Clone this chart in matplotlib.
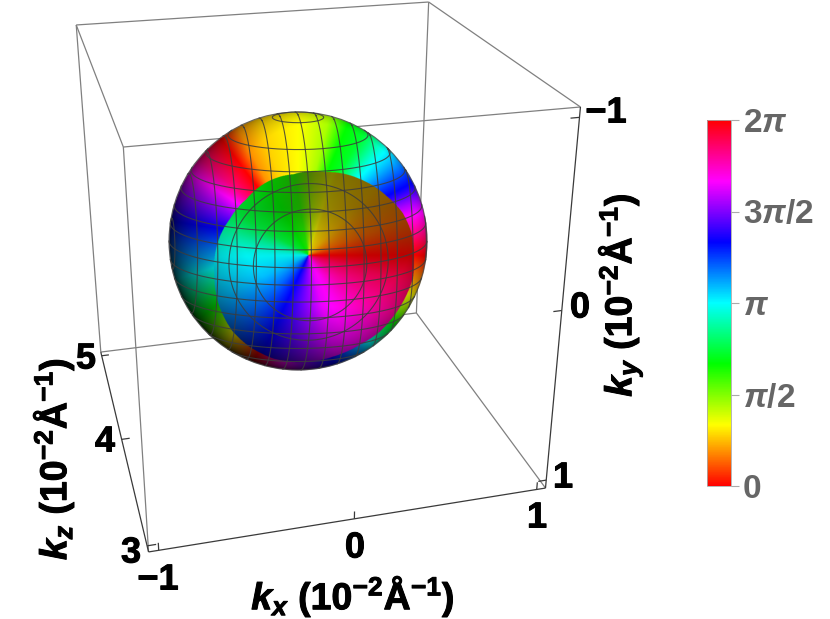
import numpy as np
import matplotlib
matplotlib.use("Agg")
import matplotlib.pyplot as plt
import matplotlib.patheffects as pe
from matplotlib.colors import hsv_to_rgb, ListedColormap, Normalize
from matplotlib.cm import ScalarMappable
from matplotlib.patches import Circle

plt.rcParams.update({
    "font.family": "Liberation Sans", "font.weight": "bold",
    "mathtext.fontset": "custom", "mathtext.default": "regular",
    "mathtext.rm": "Liberation Sans:bold",
    "mathtext.it": "Liberation Sans:italic:bold",
    "mathtext.bf": "Liberation Sans:bold",
})

# ---- axes values
KX_TICKS = [-1, 0, 1]
KY_TICKS = [-1, 0, 1]
KZ_TICKS = [3, 4, 5]
KX_LIM = (-1.05, 1.05)
KY_LIM = (-1.05, 1.05)
KZ_LIM = (2.95, 5.05)
PHASE_TICK_LABELS = ["0", r"$\mathit{\pi}$/2", r"$\mathit{\pi}$", r"3$\mathit{\pi}$/2", r"2$\mathit{\pi}$"]

# ---- phase (degrees of hue) against angle around a centre
OUTER_ANGLE = [-5, 10, 18, 27, 46, 59, 67, 76, 90, 107, 118, 127, 140, 148, 155, 171, 190, 205, 218, 235, 243, 250, 260, 270, 286, 300, 314, 331, 344, 355]
OUTER_PHASE = [355, 310, 280, 240, 180, 130, 120, 80, 60, 50, 35, 0, 330, 300, 280, 240, 200, 160, 120, 60, 30, 0, 310, 280, 240, 200, 140, 70, 30, 355]
INNER_ANGLE = [0, 20, 45, 70, 85, 100, 130, 150, 165, 178, 205, 225, 245, 265, 285, 300, 320, 345, 360]
INNER_PHASE = [0, 25, 45, 55, 75, 110, 125, 135, 160, 178, 195, 215, 240, 268, 295, 303, 320, 340, 360]
# edge of the central patch: relative radius against angle around the sphere centre
EDGE_ANGLE = [-9, 4.5, 15, 27, 45, 68, 94, 118, 141, 162, 183, 202, 221, 234, 245, 258, 271, 287, 301, 312, 326, 342, 351]
EDGE_RADIUS = [.91, .88, .84, .77, .68, .577, .52, .518, .516, .556, .63, .70, .80, .864, .90, .93, .94, .935, .935, .945, .94, .935, .91]
# brightness of the patch on a coarse picture grid
BRIGHT_X = [210, 260, 310, 360, 410]
BRIGHT_Y = [175, 208, 242, 275, 308, 358]
BRIGHT = [[1.00, .80, .50, .50, .50],
          [.90, .75, .60, .55, .55],
          [.95, .90, .85, .70, .65],
          [1.00, 1.00, 1.00, .90, .85],
          [.95, 1.00, 1.00, 1.00, .95],
          [.80, .85, .90, .90, .80]]
# mesh planes of the sphere surface (relative to radius)
MESH_X = [-.98, -.84, -.70, -.56, -.42, -.28, -.14, 0, .14, .28, .42, .56, .70, .84, .98]
MESH_Y = [-.98, -.84, -.70, -.56, -.42, -.28, -.14, 0, .14, .28, .42, .56, .70, .84, .98]
MESH_Z = [.784, .897]

# ---- layout (pixels)
W, H = 830, 619
BOX_PIXELS = {(-1, 1, 3): (148, 552), (1, 1, 3): (545, 488), (1, -1, 3): (581, 107), (-1, -1, 3): (124, 147),
              (-1, 1, 5): (101, 352), (1, 1, 5): (417, 313), (1, -1, 5): (428, 2), (-1, -1, 5): (76, 25)}
CX, CY, RAD = 298.0, 241.0, 129.0
VX, VY = 308.3, 255.0
TILT, YAW = np.radians(12), np.radians(6)

fig = plt.figure(figsize=(W / 100, H / 100), dpi=100, facecolor="white")
ax = fig.add_axes([0, 0, 1, 1])
ax.set_xlim(0, W)
ax.set_ylim(H, 0)
ax.axis("off")


def lim(s, L):
    return L[0] if s < 0 else L[1]


# camera from the box corners
rows = []
for (sx, sy, sz), (px, py) in BOX_PIXELS.items():
    X = [lim(sx, KX_LIM), lim(sy, KY_LIM), lim(sz - 4, KZ_LIM), 1]
    rows.append(X + [0, 0, 0, 0] + [-px * v for v in X])
    rows.append([0, 0, 0, 0] + X + [-py * v for v in X])
CAM = np.linalg.svd(np.array(rows))[2][-1].reshape(3, 4)


def project(kx, ky, kz):
    q = CAM @ np.array([kx, ky, kz, 1.0])
    return q[0] / q[2], q[1] / q[2]


def seg(a, b, **kw):
    pa, pb = project(*a), project(*b)
    ax.plot([pa[0], pb[0]], [pa[1], pb[1]], solid_capstyle="butt", **kw)


x0, x1 = KX_LIM
y0, y1 = KY_LIM
z0, z1 = KZ_LIM
GRAY = dict(color="#808080", lw=0.9, zorder=1)
DARK = dict(color="#3a3a3a", lw=0.9, zorder=1)
for a, b in [((x0, y0, z1), (x1, y0, z1)), ((x1, y0, z1), (x1, y0, z0)), ((x1, y0, z0), (x0, y0, z0)),
             ((x0, y0, z0), (x0, y0, z1)), ((x0, y1, z1), (x1, y1, z1)), ((x1, y1, z1), (x1, y1, z0)),
             ((x0, y0, z1), (x0, y1, z1)), ((x1, y0, z1), (x1, y1, z1)), ((x0, y0, z0), (x0, y1, z0))]:
    seg(a, b, **GRAY)
seg((x0, y1, z0), (x1, y1, z0), **DARK)
seg((x0, y1, z0), (x0, y1, z1), **DARK)
seg((x1, y0, z0), (x1, y1, z0), **DARK)
TL = 0.045
for v in KX_TICKS:
    seg((v, y1, z0), (v, y1 - TL, z0), **DARK)
for v in KY_TICKS:
    seg((x1, v, z0), (x1 - TL, v, z0), **DARK)
for v in KZ_TICKS:
    seg((x0, y1, v), (x0 + TL, y1, v), **DARK)

# ---- sphere image
SS = 3
xs = np.arange(CX - RAD - 2, CX + RAD + 2, 1 / SS)
ys = np.arange(CY - RAD - 2, CY + RAD + 2, 1 / SS)
PX, PY = np.meshgrid(xs, ys)
dx, dy = (PX - CX) / RAD, (CY - PY) / RAD
rr = np.hypot(dx, dy)
ang = np.degrees(np.arctan2(dy, dx)) % 360


def table(a, p, query):
    a = np.array(a, float)
    p = np.radians(np.array(p, float))
    o = np.argsort(a % 360)
    aa = (a % 360)[o]
    pp = p[o]
    aa = np.r_[aa[-1] - 360, aa, aa[0] + 360]
    pp = np.r_[pp[-1], pp, pp[0]]
    c = np.interp(query, aa, np.cos(pp))
    s = np.interp(query, aa, np.sin(pp))
    return (np.arctan2(s, c) / (2 * np.pi)) % 1


edge_a = np.array(EDGE_ANGLE, float) % 360
o = np.argsort(edge_a)
edge = np.interp(ang, edge_a[o], np.array(EDGE_RADIUS)[o], period=360)
inside = rr < edge
vang = np.degrees(np.arctan2(VY - PY, PX - VX)) % 360
hue = np.where(inside, table(INNER_ANGLE, INNER_PHASE, vang), table(OUTER_ANGLE, OUTER_PHASE, ang))

# bilinear brightness of the patch
bx, by = np.array(BRIGHT_X, float), np.array(BRIGHT_Y, float)
B = np.array(BRIGHT)
fx = np.interp(PX, bx, np.arange(len(bx)))
fy = np.interp(PY, by, np.arange(len(by)))
ix = np.minimum(fx.astype(int), len(bx) - 2)
iy = np.minimum(fy.astype(int), len(by) - 2)
tx, ty = fx - ix, fy - iy
bright = (B[iy, ix] * (1 - tx) * (1 - ty) + B[iy, ix + 1] * tx * (1 - ty)
          + B[iy + 1, ix] * (1 - tx) * ty + B[iy + 1, ix + 1] * tx * ty)
nz = np.sqrt(np.clip(1 - rr ** 2, 0, 1))
light = np.array([.30, .30, .90])
shade = np.clip(.40 + .9 * (light[0] * dx + light[1] * dy + light[2] * nz), 0, 1)
val = shade * np.where(inside, bright, 1.0)
rgb = hsv_to_rgb(np.dstack([hue, np.ones_like(hue), val]))
alpha = np.clip((1 - rr) * RAD + .5, 0, 1)
ax.imshow(np.dstack([rgb, alpha]), extent=[xs[0], xs[-1], ys[-1], ys[0]], interpolation="antialiased",
          zorder=2, aspect="auto")
ax.set_xlim(0, W)
ax.set_ylim(H, 0)
ax.add_patch(Circle((CX, CY), RAD, fill=False, ec="#3c3c3c", lw=0.8, alpha=.7, zorder=3))

# ---- mesh
ca, sa, cb, sb = np.cos(TILT), np.sin(TILT), np.cos(YAW), np.sin(YAW)
ROT = np.array([[1, 0, 0], [0, ca, -sa], [0, sa, ca]]) @ np.array([[cb, 0, sb], [0, 1, 0], [-sb, 0, cb]])
t = np.linspace(0, 2 * np.pi, 361)


def ring(axis, c):
    e = np.eye(3)
    a, u, v = e[axis], e[(axis + 1) % 3], e[(axis + 2) % 3]
    r = np.sqrt(1 - c ** 2)
    p = c * a[:, None] + r * (u[:, None] * np.cos(t) + v[:, None] * np.sin(t))
    q = ROT @ p
    sx, sy = CX + RAD * q[0], CY - RAD * q[1]
    sx = np.where(q[2] > 0, sx, np.nan)
    ax.plot(sx, sy, color="#3c3c3c", lw=0.8, alpha=.85, zorder=3)


for c in MESH_X:
    ring(0, c)
for c in MESH_Y:
    ring(1, c)
for c in MESH_Z:
    ring(2, c)

# ---- axis text
HEAVY = [pe.withStroke(linewidth=0.7, foreground="black")]
TK = dict(fontsize=26, color="black", ha="center", va="center", zorder=5, path_effects=HEAVY)
for s, x, y in [("5", 86, 359), ("4", 105, 442), ("3", 131, 553), ("\u22121", 158, 580), ("0", 355, 548),
                ("1", 537, 518), ("1", 563, 478), ("0", 580, 308), ("\u22121", 606, 113)]:
    ax.text(x, y, s, **TK)
LB = dict(fontsize=27, color="black", ha="center", va="center", zorder=5, path_effects=HEAVY)
ax.text(353, 596, r"$\mathit{k}_{\mathit{x}}$ (10$^{-2}$Å$^{-1}$)", **LB)
ax.text(53, 459, r"$\mathit{k}_{\mathit{z}}$ (10$^{-2}$Å$^{-1}$)", rotation=90, **LB)
ax.text(620, 295, r"$\mathit{k}_{\mathit{y}}$ (10$^{-2}$Å$^{-1}$)", rotation=90, **LB)

# ---- colour bar
hues = np.linspace(0, 1, 512)
cmap = ListedColormap(hsv_to_rgb(np.c_[hues, np.ones(512), np.ones(512)]))
cax = fig.add_axes([707 / W, 1 - 486 / H, 24 / W, 366 / H])
cbar = fig.colorbar(ScalarMappable(Normalize(0, 2 * np.pi), cmap), cax=cax,
                    ticks=[0, np.pi / 2, np.pi, 3 * np.pi / 2, 2 * np.pi])
cbar.ax.set_yticklabels(PHASE_TICK_LABELS, fontsize=24, color="#666666", fontweight="bold")
cbar.ax.tick_params(length=5.5, width=.8, color="#aaaaaa", pad=3)
cbar.outline.set_edgecolor("#aaaaaa")
cbar.outline.set_linewidth(.6)

fig.savefig("out.png", dpi=100, facecolor="white")
